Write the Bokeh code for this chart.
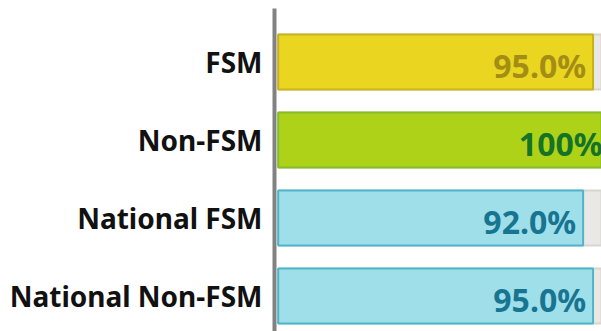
from bokeh.plotting import figure
from bokeh.models import Range1d, FixedTicker
from bokeh.core.properties import value
from bokeh.embed import file_html
from bokeh.resources import INLINE

categories = ["FSM", "Non-FSM", "National FSM", "National Non-FSM"]
values = [95.0, 100.0, 92.0, 95.0]
value_labels = ["95.0%", "100%", "92.0%", "95.0%"]
track_max = [100.0, 100.0, 100.0, 100.0]
fill_colors = ["#ead620", "#aed218", "#9fdfea", "#9fdfea"]
line_colors = ["#c9b11c", "#86bd2c", "#4fb5cb", "#4fb5cb"]
text_colors = ["#a48d14", "#157327", "#187591", "#187591"]

n = len(categories)
ypos = [n - 1 - i for i in range(n)]

FONT = "Noto Sans"

p = figure(width=601, height=331, output_backend="svg", toolbar_location=None,
           x_range=Range1d(-1.12, 97.55), y_range=Range1d(-0.455, 3.686),
           x_axis_location=None,
           min_border_left=274, min_border_right=0, min_border_top=8, min_border_bottom=0)

p.hbar(y=ypos, left=0, right=track_max, height=0.705,
       fill_color="#e9e8e4", line_color="#d6d5d0", line_width=2)
p.hbar(y=ypos, left=0, right=values, height=0.705,
       fill_color=fill_colors, line_color=line_colors, line_width=2)
p.text(x=values, y=ypos, text=value_labels, text_align="right",
       text_baseline="middle", x_offset=-7, y_offset=3,
       text_font=value(FONT), text_font_style="bold", text_font_size="32px",
       text_color=text_colors)

p.yaxis.ticker = FixedTicker(ticks=ypos)
p.yaxis.major_label_overrides = {y: c for y, c in zip(ypos, categories)}
p.yaxis.major_label_text_font = FONT
p.yaxis.major_label_text_font_style = "bold"
p.yaxis.major_label_text_font_size = "28px"
p.yaxis.major_label_text_color = "#111111"
p.yaxis.major_label_standoff = 6
p.yaxis.major_tick_line_color = None
p.yaxis.minor_tick_line_color = None
p.yaxis.axis_line_color = "#828282"
p.yaxis.axis_line_width = 4

p.xgrid.grid_line_color = None
p.ygrid.grid_line_color = None
p.outline_line_color = None
p.background_fill_color = "white"
p.border_fill_color = "white"

open("out.html", "w").write(file_html(p, INLINE))
